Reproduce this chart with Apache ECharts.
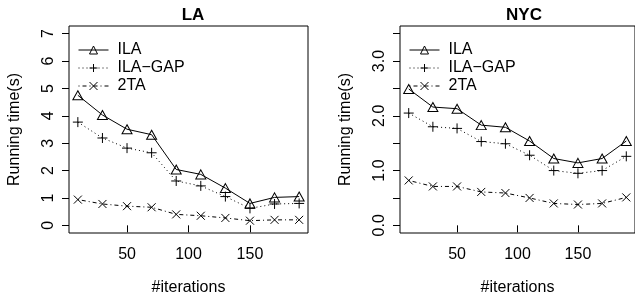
<!DOCTYPE html>
<html>
<head>
<meta charset="utf-8">
<script src="https://cdn.jsdelivr.net/npm/echarts@6/dist/echarts.min.js"></script>
<style>
  html, body { margin: 0; padding: 0; background: #fff; }
  #chart { width: 635px; height: 301px; }
</style>
</head>
<body>
<div id="chart"></div>
<script>
// data
const iterations = [10, 30, 50, 70, 90, 110, 130, 150, 170, 190]

const laILA = [4.75, 4.03, 3.51, 3.31, 2.04, 1.86, 1.36, 0.80, 1.02, 1.05]
const laGAP = [3.77, 3.19, 2.82, 2.65, 1.62, 1.44, 1.05, 0.62, 0.78, 0.80]
const la2TA = [0.94, 0.78, 0.70, 0.66, 0.40, 0.35, 0.27, 0.17, 0.20, 0.20]

const nycILA = [2.49, 2.16, 2.13, 1.83, 1.79, 1.54, 1.22, 1.14, 1.22, 1.54]
const nycGAP = [2.05, 1.80, 1.77, 1.53, 1.49, 1.28, 1.00, 0.95, 1.00, 1.26]
const nyc2TA = [0.82, 0.71, 0.71, 0.61, 0.59, 0.50, 0.40, 0.38, 0.40, 0.51]

const seriesNames = ['ILA', 'ILA\u2212GAP', '2TA']
const panelTitles = ['LA', 'NYC']
const xTicks = [50, 100, 150]
const laYTicks = [0, 1, 2, 3, 4, 5, 6, 7]
const nycYTicks = [0, 0.5, 1, 1.5, 2, 2.5, 3, 3.5]
const nycYLabels = [0, 1, 2, 3]

const FONT = '"Liberation Sans", Arial, Helvetica, sans-serif'

// R style marks
const SYM_TRI = 'path://M5,0L10,8.66L0,8.66Z'
const SYM_PLUS = 'path://M0,5L10,5M5,0L5,10'
const SYM_X = 'path://M0,0L10,10M10,0L0,10'

const styles = [
  { symbol: SYM_TRI, size: [10, 9], dash: 'solid' },
  { symbol: SYM_PLUS, size: 10, dash: [1, 3] },
  { symbol: SYM_X, size: 8, dash: [1, 3, 4, 3] }
]

const pairs = (ys) => iterations.map((x, i) => [x, ys[i]])

const makeSeries = (idx, lists) => lists.map((ys, k) => ({
  name: seriesNames[k],
  type: 'line',
  xAxisIndex: idx,
  yAxisIndex: idx,
  data: pairs(ys),
  symbol: styles[k].symbol,
  symbolSize: styles[k].size,
  color: '#000',
  itemStyle: { color: 'none', borderColor: '#000', borderWidth: 1 },
  lineStyle: { color: '#000', width: 1, type: styles[k].dash },
  emphasis: { disabled: true },
  z: 3 - k
}))

const xAxisOf = (idx) => ({
  type: 'value',
  gridIndex: idx,
  min: 2.8,
  max: 197.2,
  name: '#iterations',
  nameLocation: 'middle',
  nameGap: 47,
  nameTextStyle: { color: '#000', fontSize: 16, fontFamily: FONT },
  axisLine: { show: false },
  axisTick: { show: true, inside: false, length: 7, customValues: xTicks, lineStyle: { color: '#000' } },
  axisLabel: { customValues: xTicks, margin: 14, color: '#000', fontSize: 16, fontFamily: FONT },
  splitLine: { show: false }
})

const yAxisOf = (idx, max, ticks, labels, fmt) => ({
  type: 'value',
  gridIndex: idx,
  min: -max * 0.04,
  max: max * 1.04,
  name: 'Running time(s)',
  nameLocation: 'middle',
  nameGap: 46,
  nameTextStyle: { color: '#000', fontSize: 16, fontFamily: FONT },
  axisLine: { show: false },
  axisTick: { show: true, inside: false, length: 7, customValues: ticks, lineStyle: { color: '#000' } },
  axisLabel: {
    customValues: labels,
    rotate: 90,
    margin: 12,
    color: '#000',
    fontSize: 16,
    fontFamily: FONT,
    formatter: fmt
  },
  splitLine: { show: false }
})

const legendOf = (left) => ({
  orient: 'vertical',
  left: left,
  top: 37,
  itemWidth: 30,
  itemHeight: 10,
  itemGap: 2,
  data: seriesNames,
  selectedMode: false,
  itemStyle: { color: 'none', borderColor: '#000', borderWidth: 1 },
  lineStyle: { color: '#000', width: 1 },
  textStyle: { color: '#000', fontSize: 16, fontFamily: FONT, padding: [0, 0, 0, 4] }
})

const chart = echarts.init(document.getElementById('chart'))

chart.setOption({
  animation: false,
  backgroundColor: '#fff',
  title: [
    { text: panelTitles[0], left: 188, top: 2, textAlign: 'center',
      textStyle: { fontSize: 17, fontWeight: 'bold', color: '#000', fontFamily: FONT } },
    { text: panelTitles[1], left: 519, top: 2, textAlign: 'center',
      textStyle: { fontSize: 17, fontWeight: 'bold', color: '#000', fontFamily: FONT } }
  ],
  grid: [
    { left: 69, top: 26, width: 239, height: 210, show: true, borderColor: '#000', borderWidth: 1, backgroundColor: 'transparent' },
    { left: 400, top: 26, width: 238, height: 210, show: true, borderColor: '#000', borderWidth: 1, backgroundColor: 'transparent' }
  ],
  legend: [legendOf(73), legendOf(404)],
  xAxis: [xAxisOf(0), xAxisOf(1)],
  yAxis: [
    yAxisOf(0, 7, laYTicks, laYTicks, (v) => String(v)),
    yAxisOf(1, 3.5, nycYTicks, nycYLabels, (v) => v.toFixed(1))
  ],
  series: [
    ...makeSeries(0, [laILA, laGAP, la2TA]),
    ...makeSeries(1, [nycILA, nycGAP, nyc2TA])
  ]
})
</script>
</body>
</html>
